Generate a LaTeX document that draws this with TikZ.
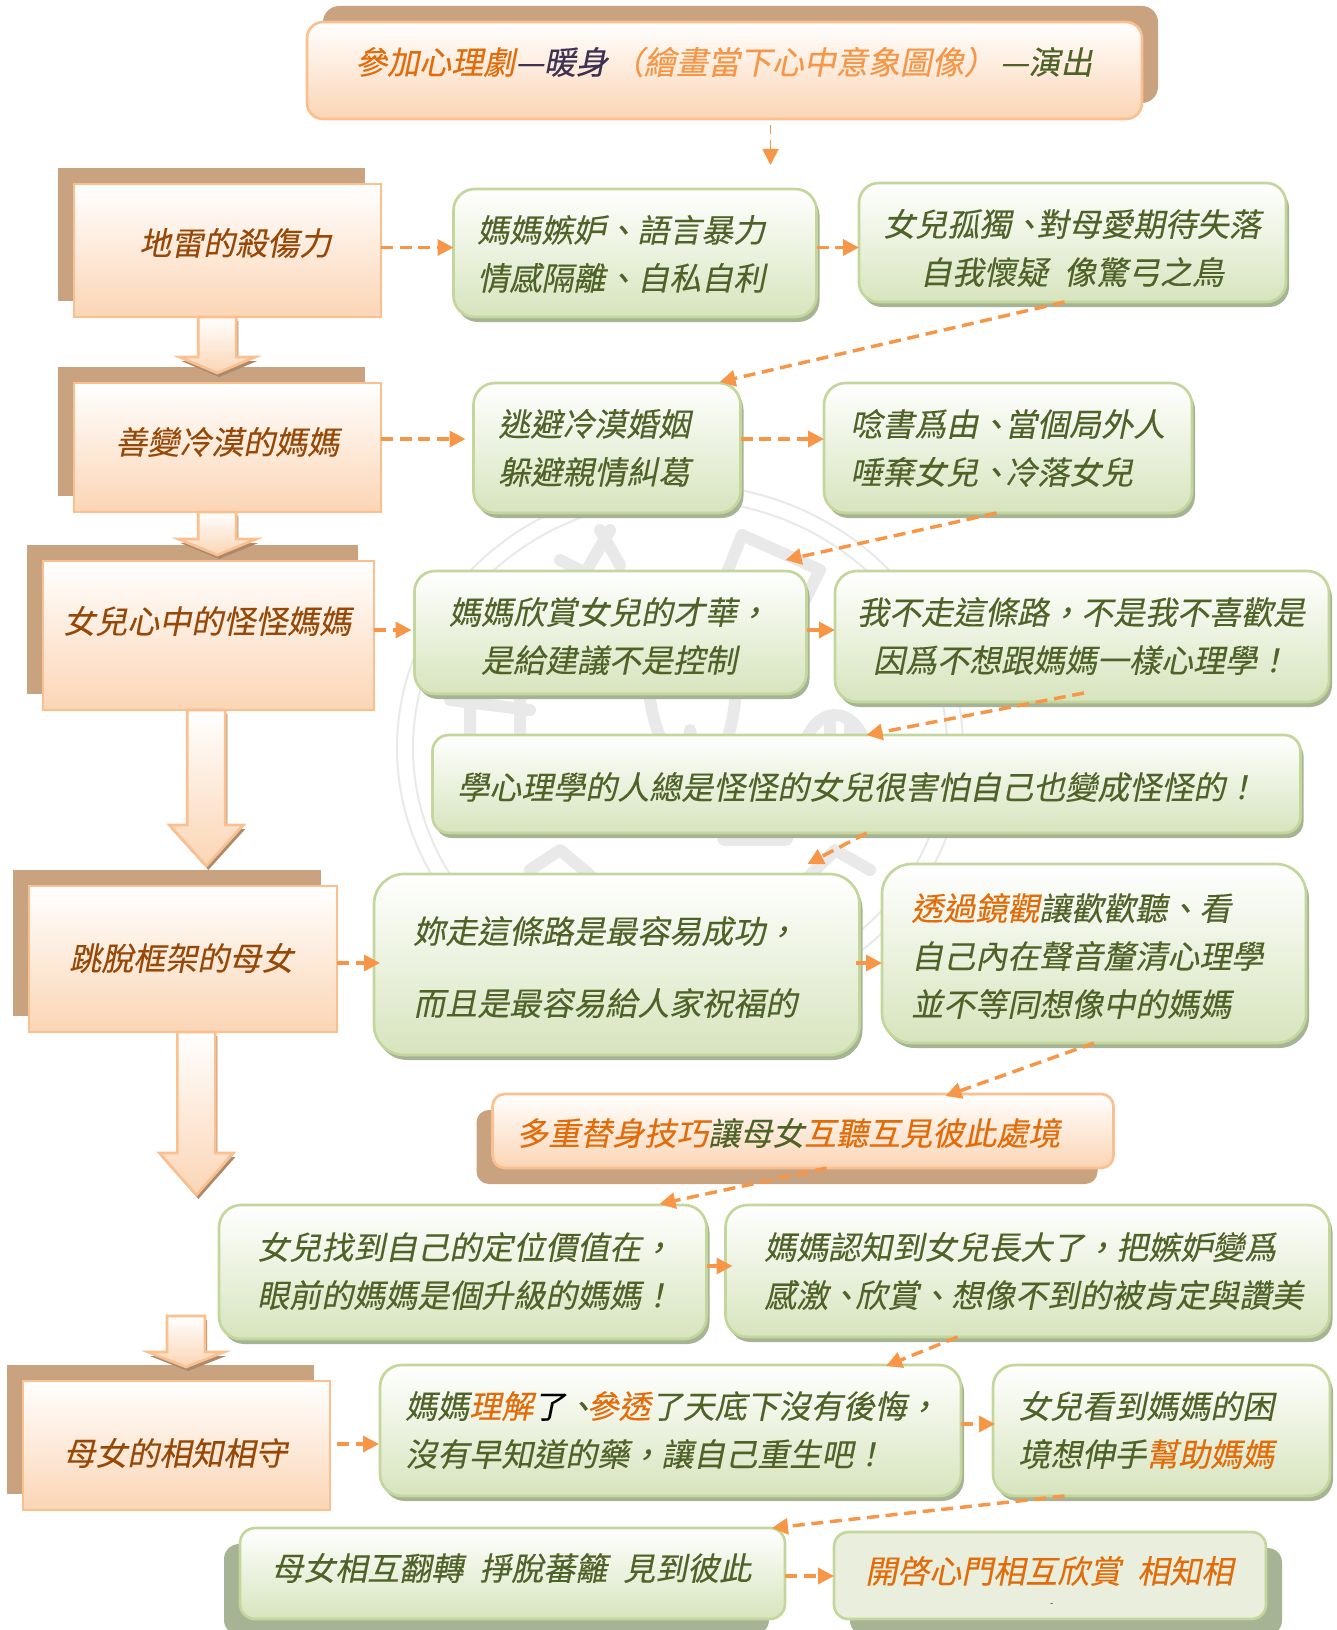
\documentclass[tikz,border=0pt]{standalone}
\usepackage{fontspec}
\newfontfamily\cjk[FakeSlant=0.2,FakeBold=0.25]{Noto Sans CJK TC}
\usetikzlibrary{calc,shadows,arrows.meta}
\definecolor{boxline}{HTML}{FAC090}
\definecolor{boxlow}{HTML}{FBD5B5}
\definecolor{boxshade}{HTML}{C9A27F}
\definecolor{greenline}{HTML}{C3D69B}
\definecolor{greenlow}{HTML}{D7E4BD}
\definecolor{greenpale}{HTML}{E9EFDC}
\definecolor{greenshade}{HTML}{A6B394}
\definecolor{greentext}{HTML}{4F6228}
\definecolor{browntext}{HTML}{974806}
\definecolor{hiorange}{HTML}{E36C0A}
\definecolor{softorange}{HTML}{F79646}
\definecolor{darkviolet}{HTML}{3F3151}
\definecolor{dashorange}{HTML}{F79646}
\definecolor{sealgray}{HTML}{E9E9E9}
\tikzset{
  box size/.style 2 args={minimum width=#1*0.75pt,minimum height=#2*0.75pt},
  round size/.style={rounded corners=#1*0.125pt},
  shape base/.style={anchor=north west,inner sep=0pt,outer sep=0pt,line width=2pt},
  orangebox/.style={shape base,draw=boxline,top color=white,bottom color=boxlow},
  greenbox/.style={shape base,draw=greenline,top color=white,bottom color=greenlow},
  brownshadow/.style 2 args={drop shadow={shadow xshift=#1*0.75pt,shadow yshift=#2*0.75pt,fill=boxshade,opacity=1}},
  greenshadow/.style 2 args={drop shadow={shadow xshift=#1*0.75pt,shadow yshift=#2*0.75pt,fill=greenshade,opacity=1}},
  gtext/.style={anchor=west,inner sep=0pt,align=left,text=greentext,font=\cjk\fontsize{24}{36}\selectfont},
  ctext/.style={gtext,anchor=center,align=center},
  btext/.style={gtext,text=browntext},
  dasharrow/.style={draw=dashorange,line width=2.6pt,dash pattern=on 9pt off 5pt,-{Triangle[length=12pt,width=12pt]}},
  blockarrow/.style={draw=boxline,line width=2pt,top color=white,bottom color=boxlow,
    drop shadow={shadow xshift=1.5pt,shadow yshift=-3pt,fill=boxshade!85!black,opacity=1}},
  seal/.style={draw=sealgray,line width=9pt,line cap=round,line join=round},
}
\begin{document}
\begin{tikzpicture}[x=0.75pt,y=0.75pt,yscale=-1,xscale=1]
\useasboundingbox (0,0) rectangle (1336,1630);

% seal behind the boxes
\draw [sealgray,line width=1.5pt] (680,748) ellipse (283 and 264);
\draw [sealgray,line width=1.5pt] (680,748) ellipse (267 and 248);
\draw [seal] (600,530) -- (620,565) (560,560) -- (640,600) (610,530) -- (575,590);
\draw [seal] (720,590) -- (742,535) -- (820,570) -- (800,610);
\draw [seal] (450,700) -- (530,710) (470,700) -- (470,760) (520,700) -- (520,770);
\draw [seal] (650,700) .. controls (660,760) and (690,790) .. (690,730) .. controls (700,790) and (730,760) .. (735,700);
\draw [seal] (800,760) .. controls (810,700) and (860,700) .. (870,760) (830,720) -- (830,770) (850,720) -- (850,770);
\draw [seal,line width=12pt] (725,838) -- (785,838);
\draw [seal] (530,870) -- (560,850) -- (590,875) (810,875) -- (835,850) -- (870,870);

% boxes on the left
\node [orangebox,box size={307}{133},brownshadow={-16}{16}] (landmine) at (74,184) {};
\node [orangebox,box size={307}{129},brownshadow={-16}{16}] (coldmom) at (74,383) {};
\node [orangebox,box size={331}{149},brownshadow={-16}{16}] (oddmom) at (43,561) {};
\node [orangebox,box size={308}{146},brownshadow={-16}{16}] (breakout) at (29,886) {};
\node [orangebox,box size={307}{129},brownshadow={-16}{16}] (knowing) at (23,1381) {};

% rounded orange boxes
\node [orangebox,box size={835}{97},round size=97,brownshadow={16}{16}] (warmup) at (307,22) {};
\node [orangebox,box size={621}{74},round size=74,brownshadow={-16}{-16}] (doubles) at (492.5,1094) {};

% green boxes
\node [greenbox,box size={363}{128},round size=128,greenshadow={3}{-5}] (jealous) at (453.5,189) {};
\node [greenbox,box size={427}{119},round size=119,greenshadow={3}{-5}] (lonely) at (859,183) {};
\node [greenbox,box size={267}{130},round size=130,greenshadow={3}{-5}] (escape) at (473.5,383) {};
\node [greenbox,box size={368}{130},round size=130,greenshadow={3}{-5}] (reading) at (824,383) {};
\node [greenbox,box size={392}{123},round size=123,greenshadow={3}{-5}] (talent) at (414.5,571) {};
\node [greenbox,box size={494}{131},round size=131,greenshadow={3}{-5}] (notpath) at (835,571) {};
\node [greenbox,box size={868}{98},round size=98,greenshadow={3}{-5}] (afraid) at (432.5,735) {};
\node [greenbox,box size={485.5}{181},round size=181,greenshadow={3}{-5}] (easypath) at (374,874) {};
\node [greenbox,box size={424}{179},round size=179,greenshadow={3}{-5}] (mirror) at (882,864) {};
\node [greenbox,box size={487.5}{134},round size=134,greenshadow={3}{-5}] (position) at (219,1205) {};
\node [greenbox,box size={604}{132},round size=132,greenshadow={3}{-5}] (grateful) at (725.5,1205) {};
\node [greenbox,box size={581}{131},round size=131,greenshadow={3}{-5}] (noregret) at (380,1365) {};
\node [greenbox,box size={337}{131},round size=131,greenshadow={3}{-5}] (helpmom) at (993,1365) {};
\node [greenbox,box size={545}{91},round size=91,greenshadow={-16}{-16}] (turning) at (240,1528) {};
\node [shape base,draw=greenline,top color=greenpale,middle color=greenline,bottom color=greenpale,shading angle=11,box size={432}{87},round size=87,greenshadow={16}{-16}] (opening) at (834,1532) {};

% block arrows
\foreach \cx/\ty/\sy/\ey/\hw in {217.3/317/357/373/38,217.3/512/539/555/39,206.3/710/825/866/37,196.4/1032/1153/1195/37,186/1316/1352/1367/38}
  \draw [blockarrow] (\cx-19,\ty) -- (\cx-19,\sy) -- (\cx-\hw,\sy) -- (\cx,\ey) -- (\cx+\hw,\sy) -- (\cx+19,\sy) -- (\cx+19,\ty) -- cycle;

% dashed connectors
\coordinate (warmupend) at (770.5,165);
\draw [dasharrow,line width=1.4pt,dash pattern=on 7pt off 4pt] ($(warmup.south)+(46,6)$) -- (warmupend);
\draw [dasharrow] ($(landmine.east)+(0,-3)$) -- ($(jealous.west)+(0,-5.5)$);
\draw [dasharrow] ($(jealous.east)+(0,-5.5)$) -- ($(lonely.west)+(0,5)$);
\draw [dasharrow] ($(lonely.south)+(-8,0)$) -- ($(escape.north east)+(-21,-1)$);
\draw [dasharrow] ($(coldmom.east)+(0,-8.5)$) -- ($(escape.west)+(-8,-9)$);
\draw [dasharrow] ($(escape.east)+(0,-9)$) -- ($(reading.west)+(0,-9)$);
\draw [dasharrow] ($(reading.south)+(-11.5,0)$) -- ($(talent.north east)+(-21,-11)$);
\draw [dasharrow] ($(oddmom.east)+(0,-5.5)$) -- ($(talent.west)+(-3,-2.5)$);
\draw [dasharrow] ($(talent.east)+(0,-2.5)$) -- ($(notpath.west)+(0,-6.5)$);
\draw [dasharrow] ($(notpath.south)+(2,-9)$) -- (afraid.north);
\draw [dasharrow] (afraid.south) -- ($(easypath.north east)+(-52,-10)$);
\draw [dasharrow] ($(breakout.east)+(0,4)$) -- ($(easypath.west)+(6,-1.5)$);
\draw [dasharrow] ($(easypath.east)+(-4,-1.5)$) -- ($(mirror.west)+(0,9.5)$);
\draw [dasharrow] (mirror.south) -- ($(doubles.north east)+(-168,2)$);
\draw [dasharrow] ($(doubles.south)+(23.5,0)$) -- ($(position.north east)+(-47,-1)$);
\draw [dasharrow] ($(position.east)+(0,-6)$) -- ($(grateful.west)+(7,-5)$);
\draw [dasharrow] ($(grateful.south)+(-70,0)$) -- ($(noregret.north east)+(-75,1)$);
\draw [dasharrow] ($(knowing.east)+(7,-1.5)$) -- ($(noregret.west)+(-1,13.5)$);
\draw [dasharrow] ($(noregret.east)+(0,-6.5)$) -- ($(helpmom.west)+(2,-6.5)$);
\draw [dasharrow] ($(helpmom.south)+(-97,0)$) -- ($(turning.north east)+(-13,0)$);
\draw [dasharrow] ($(turning.east)+(0,2.5)$) -- ($(opening.west)+(0,0.5)$);

% text nodes
\node [gtext] (warmuptext) at (355,62) {\textcolor{hiorange}{參加心理劇}\textcolor{darkviolet}{—暖身}\hspace{3pt}\textcolor{softorange}{（繪畫當下心中意象圖像）}\hspace{3pt}—演出};
\node [btext] (landminetext) at (139,243) {地雷的殺傷力};
\node [btext] (coldmomtext) at (115,442) {善變冷漠的媽媽};
\node [btext] (oddmomtext) at (63,621) {女兒心中的怪怪媽媽};
\node [btext] (breakouttext) at (69,958) {跳脫框架的母女};
\node [btext] (knowingtext) at (63,1453) {母女的相知相守};
\node [gtext] (jealoustext) at (477,254) {媽媽嫉妒、語言暴力\\情感隔離、自私自利};
\node [ctext] (lonelytext) at (1072,248) {女兒孤獨、\kern-.2em 對母愛期待失落\\自我懷疑\hspace{.5em}像驚弓之鳥};
\node [gtext] (escapetext) at (498,448) {逃避冷漠婚姻\\躲避親情糾葛};
\node [gtext] (readingtext) at (850,448) {唸書爲由、\kern-.16em 當個局外人\\唾棄女兒、\kern-.16em 冷落女兒};
\node [ctext] (talenttext) at (609,636) {媽媽欣賞女兒的才華，\\是給建議不是控制};
\node [ctext] (notpathtext) at (1081,636) {我不走這條路，不是我不喜歡是\\因爲不想跟媽媽一樣心理學！};
\node [gtext] (afraidtext) at (457,787) {學心理學的人總是怪怪的女兒很害怕自己也變成怪怪的！};
\node [gtext] (easypathtext) at (413,967) {妳走這條路是最容易成功，\\[18pt]而且是最容易給人家祝福的};
\node [gtext] (mirrortext) at (911,956) {\textcolor{hiorange}{透過鏡觀}讓歡歡聽、看\\自己內在聲音釐清心理學\\並不等同想像中的媽媽};
\node [gtext] (doublestext) at (516,1133) {\textcolor{hiorange}{多重替身技巧}讓母女\textcolor{hiorange}{互聽互見彼此處境}};
\node [gtext] (positiontext) at (257,1271) {女兒找到自己的定位價值在，\\眼前的媽媽是個升級的媽媽！};
\node [gtext] (gratefultext) at (764,1271) {媽媽認知到女兒長大了，把嫉妒變爲\\感激、\kern-.16em 欣賞、想像不到的被肯定與讚美};
\node [gtext] (noregrettext) at (405,1430) {媽媽\textcolor{hiorange}{理解}\textcolor{black}{了}、\kern-.33em \textcolor{hiorange}{參透}了天底下沒有後悔，\\沒有早知道的藥，讓自己重生吧！};
\node [gtext] (helpmomtext) at (1018,1430) {女兒看到媽媽的困\\境想伸手\textcolor{hiorange}{幫助媽媽}};
\node [gtext] (turningtext) at (271,1568) {母女相互翻轉\hspace{.5em}掙脫蕃籬\hspace{.5em}見到彼此};
\node [gtext,text=hiorange] (openingtext) at (865,1571) {開啓心門相互欣賞\hspace{.5em}相知相};
\node [anchor=center,inner sep=0pt,font=\fontsize{5}{5}\selectfont] (openingmark) at (1052,1605) {-};

\end{tikzpicture}
\end{document}
